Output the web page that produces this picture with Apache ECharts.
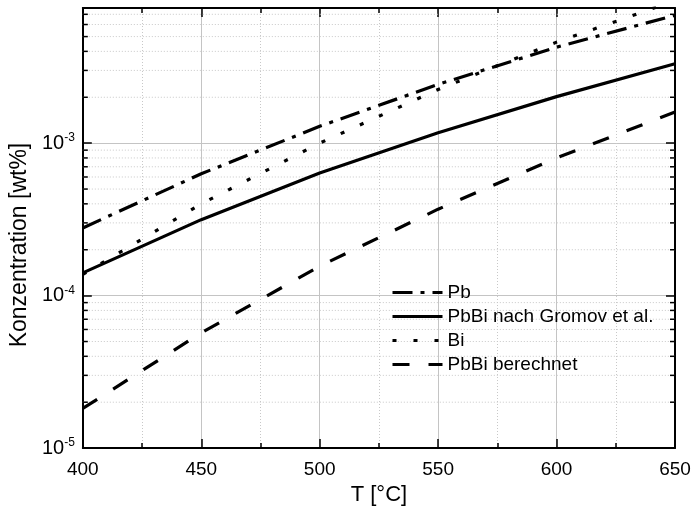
<!DOCTYPE html>
<html><head><meta charset="utf-8">
<script src="https://cdn.jsdelivr.net/npm/echarts@6/dist/echarts.min.js"></script>
<style>html,body{margin:0;padding:0;background:#fff}#c{width:694px;height:511px}</style>
</head><body><div id="c"></div>
<script>
const temps = [400, 450, 500, 550, 600, 650];
const pb = [2.78e-4, 6.3e-4, 1.29e-3, 2.43e-3, 4.26e-3, 6.9e-3];
const pbbiGromov = [1.41e-4, 3.15e-4, 6.37e-4, 1.17e-3, 2.02e-3, 3.32e-3];
const bi = [1.38e-4, 4.0e-4, 1.0e-3, 2.25e-3, 4.6e-3, 8.6e-3];
const pbbiCalc = [1.82e-5, 5.7e-5, 1.56e-4, 3.69e-4, 8.0e-4, 1.6e-3];
const seriesNames = ['Pb', 'PbBi nach Gromov et al.', 'Bi', 'PbBi berechnet'];
const xTicks = [400, 450, 500, 550, 600, 650];
const yMin = 1e-5, yMax = 0.0077, xMin = 400, xMax = 650;

const minorY = [];
for (let e = -5; e <= -3; e++) for (let m = 2; m <= 9; m++) { const v = m * Math.pow(10, e); if (v < yMax) minorY.push([xMin, v]); }

const FONT = "'Liberation Sans', Arial, sans-serif";
const pair = arr => temps.map((t, i) => [t, arr[i]]);

function yFmt(v) { const e = Math.round(Math.log10(v)); return '{b|10}{s|' + e + '}'; }

const axisLineStyle = { color: '#000', width: 2 };
const chart = echarts.init(document.getElementById('c'), null, { renderer: 'canvas' });
chart.setOption({
  animation: false,
  backgroundColor: '#fff',
  textStyle: { fontFamily: FONT },
  grid: { left: 81, right: 19, top: 8, bottom: 62, containLabel: false },
  xAxis: [{
    type: 'value', min: xMin, max: xMax, interval: 50, position: 'bottom',
    name: 'T [°C]', nameLocation: 'middle', nameGap: 33,
    nameTextStyle: { fontSize: 22, color: '#000', fontFamily: FONT },
    axisLine: { lineStyle: axisLineStyle },
    axisTick: { inside: true, length: 9, lineStyle: { color: '#000', width: 1.5 } },
    minorTick: { show: true, splitNumber: 2, length: 5, lineStyle: { color: '#000', width: 1.5 } },
    axisLabel: { fontSize: 19, color: '#000', margin: 12, fontFamily: FONT },
    splitLine: { show: true, lineStyle: { color: '#c4c4c4', width: 1 } },
    minorSplitLine: { show: true, lineStyle: { color: '#c8c8c8', width: 1, type: [1, 2] } }
  }, {
    type: 'value', min: xMin, max: xMax, interval: 50, position: 'top',
    axisLine: { lineStyle: axisLineStyle },
    axisTick: { inside: true, length: 9, lineStyle: { color: '#000', width: 1.5 } },
    minorTick: { show: true, splitNumber: 2, length: 5, lineStyle: { color: '#000', width: 1.5 } },
    axisLabel: { show: false }, splitLine: { show: false }
  }],
  yAxis: [{
    type: 'log', logBase: 10, min: yMin, max: yMax, interval: 1, position: 'left',
    name: 'Konzentration [wt%]', nameLocation: 'middle', nameGap: 47, nameRotate: 90,
    nameTextStyle: { fontSize: 23, color: '#000', fontFamily: FONT, padding: [0, 34, 0, 0] },
    axisLine: { lineStyle: axisLineStyle },
    axisTick: { inside: true, length: 9, lineStyle: { color: '#000', width: 1.5 } },
    axisLabel: {
      margin: 8, showMaxLabel: false, formatter: yFmt,
      rich: {
        b: { fontSize: 20, color: '#000', fontFamily: FONT, lineHeight: 22 },
        s: { fontSize: 12, color: '#000', fontFamily: FONT, lineHeight: 10, verticalAlign: 'top' }
      }
    },
    splitLine: { show: true, lineStyle: { color: '#c4c4c4', width: 1 } }
  }, {
    type: 'log', logBase: 10, min: yMin, max: yMax, interval: 1, position: 'right',
    axisLine: { lineStyle: axisLineStyle },
    axisTick: { inside: true, length: 9, lineStyle: { color: '#000', width: 1.5 } },
    axisLabel: { show: false }, splitLine: { show: false }
  }],
  legend: {
    data: seriesNames, orient: 'vertical', left: 391, top: 283, itemGap: 5, padding: 0,
    itemWidth: 50, itemHeight: 14, textStyle: { fontSize: 19, color: '#000', fontFamily: FONT },
    itemStyle: { opacity: 0 },
    lineStyle: { width: 3 },
    backgroundColor: 'transparent'
  },
  series: [
    {
      type: 'custom', z: 1, silent: true, coordinateSystem: 'cartesian2d', data: minorY,
      encode: { x: 0, y: 1 },
      renderItem: (params, api) => {
        const v = api.value(1);
        const a = api.coord([xMin, v]);
        const b = api.coord([xMax, v]);
        return { type: 'group', children: [
          { type: 'line', shape: { x1: a[0], y1: a[1], x2: b[0], y2: b[1] }, style: { stroke: '#c8c8c8', lineWidth: 1, lineDash: [1, 2] } },
          { type: 'line', shape: { x1: a[0], y1: a[1], x2: a[0] + 5, y2: a[1] }, style: { stroke: '#000', lineWidth: 1.5 } },
          { type: 'line', shape: { x1: b[0] - 5, y1: b[1], x2: b[0], y2: b[1] }, style: { stroke: '#000', lineWidth: 1.5 } }
        ] };
      }
    },
    { name: 'Pb', type: 'line', z: 3, data: pair(pb), showSymbol: false, symbol: 'none',
      lineStyle: { color: '#000', width: 3.2, type: [20, 8, 4, 8] }, itemStyle: { color: '#000' } },
    { name: 'PbBi nach Gromov et al.', type: 'line', z: 3, data: pair(pbbiGromov), showSymbol: false, symbol: 'none',
      lineStyle: { color: '#000', width: 3.2, type: 'solid' }, itemStyle: { color: '#000' } },
    { name: 'Bi', type: 'line', z: 3, data: pair(bi), showSymbol: false, symbol: 'none',
      lineStyle: { color: '#000', width: 3.2, type: [4, 17] }, itemStyle: { color: '#000' } },
    { name: 'PbBi berechnet', type: 'line', z: 3, data: pair(pbbiCalc), showSymbol: false, symbol: 'none',
      lineStyle: { color: '#000', width: 3.2, type: [17, 19] }, itemStyle: { color: '#000' } }
  ]
});
</script>
</body></html>
